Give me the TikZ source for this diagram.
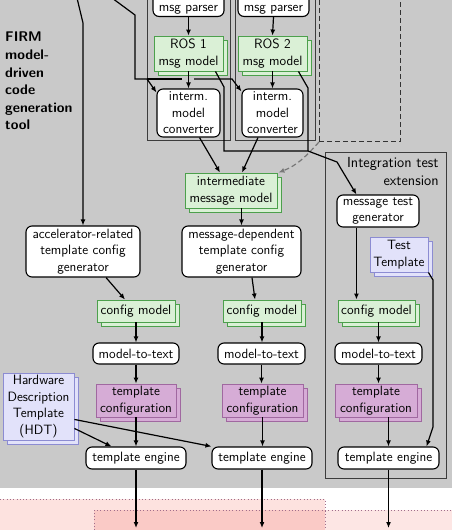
\documentclass[tikz,border=0pt]{standalone}
\usepackage{fontspec}
\usetikzlibrary{arrows.meta,shadows,calc}
\definecolor{bggray}{RGB}{201,201,201}
\definecolor{gfill}{RGB}{218,240,214}
\definecolor{gdraw}{RGB}{76,160,76}
\definecolor{pfill}{RGB}{214,172,214}
\definecolor{pdraw}{RGB}{160,104,160}
\definecolor{lfill}{RGB}{226,226,250}
\definecolor{ldraw}{RGB}{140,140,210}
\definecolor{pinkA}{RGB}{253,226,223}
\definecolor{pinkB}{RGB}{250,202,198}
\definecolor{pinkC}{RGB}{253,230,228}
\definecolor{dotc}{RGB}{160,110,140}
\definecolor{boxc}{RGB}{60,60,60}
\definecolor{gline}{RGB}{120,120,120}
\newcommand\labfont{\fontsize{13.5}{16.5}\selectfont\sffamily}
\begin{document}
\begin{tikzpicture}[x=1pt,y=-1pt,
  proc/.style={draw=black, line width=1.1pt, fill=white, rounded corners=6pt, align=center, inner sep=0pt, font=\labfont},
  gdoc/.style={draw=gdraw, fill=gfill, line width=0.9pt, align=center, inner sep=0pt, font=\labfont, copy shadow={shadow xshift=4pt, shadow yshift=-4pt}},
  pdoc/.style={draw=pdraw, fill=pfill, line width=0.9pt, align=center, inner sep=0pt, font=\labfont, copy shadow={shadow xshift=4pt, shadow yshift=-4pt}},
  ldoc/.style={draw=ldraw, fill=lfill, line width=0.9pt, align=center, inner sep=0pt, font=\labfont, copy shadow={shadow xshift=4pt, shadow yshift=-4pt}},
  grp/.style={draw=boxc, line width=0.8pt, inner sep=0pt},
  extbox/.style={draw=black!80, line width=0.8pt, dash pattern=on 5pt off 3pt, inner sep=0pt},
  conn/.style={line width=1.2pt, -{Latex[length=6pt,width=5pt]}},
  wire/.style={line width=1.2pt},
  gconn/.style={line width=1.2pt, gline, dash pattern=on 5pt off 3pt, -{Latex[length=6pt,width=5pt]}},
  dots/.style={dotc, line width=0.9pt, dash pattern=on 0.9pt off 2.4pt},
]
\useasboundingbox (0,0) rectangle (452,530);
% backgrounds
\fill[bggray] (0,0) rectangle (452,488);
\fill[pinkA] (0,499) rectangle (325,530);
\fill[pinkB] (94,510) rectangle (325,530);
\fill[pinkC] (325,510) rectangle (452,530);
\draw[dots] (0,499) -- (325,499) -- (325,530);
\draw[dots] (94,530) -- (94,510) -- (325,510);
\draw[dots] (325,510) -- (452,510);

% group frames
\node[grp, minimum width=83, minimum height=150, anchor=south west] (col1) at (147,141) {};
\node[grp, minimum width=80, minimum height=150, anchor=south west] (col2) at (235,141) {};
\node[extbox, minimum width=81, minimum height=150, anchor=south west] (ext) at (319,142) {};
\node[grp, minimum width=121, minimum height=326, anchor=north west] (intbox) at (325,152) {};
\node[font={\fontsize{14.6}{17.6}\selectfont\sffamily}, align=right, anchor=north east, inner sep=0pt] (intlabel) at ($(intbox.north east)+(-8,5.5)$) {Integration test\\extension};

% title
\node[anchor=north west, align=left, inner sep=0pt, font={\fontsize{14}{17.6}\selectfont\sffamily\bfseries}] (firm) at (5,32) {FIRM\\model-\\driven\\code\\generation\\tool};

% nodes
\node[proc, anchor=south, minimum width=71, inner ysep=2.5pt] (parser1) at (188.5,17) {\mbox{}\\msg parser};
\node[proc, anchor=south, minimum width=71, inner ysep=2.5pt] (parser2) at (273.5,17) {\mbox{}\\msg parser};
\node[gdoc, minimum width=69, minimum height=35] (ros1model) at (188.5,53.5) {ROS 1\\msg model};
\node[gdoc, minimum width=69, minimum height=35] (ros2model) at (272.5,53.5) {ROS 2\\msg model};
\node[proc, minimum width=63, minimum height=48] (conv1) at (188.5,113) {interm.\\model\\converter};
\node[proc, minimum width=61, minimum height=48] (conv2) at (272.5,113) {interm.\\model\\converter};
\node[gdoc, minimum width=92, minimum height=35] (imm) at (231,190.5) {intermediate\\message model};
\node[proc, minimum width=114, minimum height=51] (accgen) at (83,251.5) {accelerator-related\\template config\\generator};
\node[proc, minimum width=119, minimum height=51] (msgdep) at (241.5,251.5) {message-dependent\\template config\\generator};
\node[proc, minimum width=82, minimum height=32] (msgtest) at (378,211) {message test\\generator};
\node[ldoc, minimum width=58, minimum height=35] (testtpl) at (399,254.5) {Test\\Template};
\node[gdoc, minimum width=78, minimum height=22] (cfg1) at (136,311) {config model};
\node[gdoc, minimum width=78, minimum height=22] (cfg2) at (262,311) {config model};
\node[gdoc, minimum width=77, minimum height=22] (cfg3) at (376.5,311) {config model};
\node[proc, minimum width=86, minimum height=21] (m2t1) at (136,353.5) {model-to-text};
\node[proc, minimum width=87, minimum height=21] (m2t2) at (261.5,353.5) {model-to-text};
\node[proc, minimum width=87, minimum height=21] (m2t3) at (378.5,353.5) {model-to-text};
\node[pdoc, minimum width=80, minimum height=33] (tc1) at (136,400.5) {template\\configuration};
\node[pdoc, minimum width=81, minimum height=33] (tc2) at (262.5,400.5) {template\\configuration};
\node[pdoc, minimum width=82, minimum height=33] (tc3) at (376,400.5) {template\\configuration};
\node[ldoc, minimum width=71, minimum height=67] (hdt) at (38.5,406.5) {Hardware\\Description\\Template\\(HDT)};
\node[proc, minimum width=100, minimum height=22] (te1) at (136,458) {template engine};
\node[proc, minimum width=100, minimum height=22] (te2) at (262,458) {template engine};
\node[proc, minimum width=101, minimum height=22] (te3) at (388.5,458) {template engine};

% incoming lines from above
\coordinate (inA) at (77,-2);
\coordinate (inB) at (112,-2);
\draw[conn] (inA) -- (83,23) -- (accgen.north);
\coordinate (j1) at (147,79);
\draw[wire] (inB) -- (135,15) -- (135,79) -- (j1);
\draw[conn] (j1) -- ($(conv1.north west)+(0,4)$);
\draw[wire] (j1) -- (182,79);
\draw[conn] (194,79) -- (232,79) -- ($(conv2.north west)+(0,3)$);

% column arrows
\draw[conn] (parser1.south) -- (ros1model.north);
\draw[conn] (parser2.south) -- (ros2model.north);
\draw[conn] (ros1model.south) -- (conv1.north);
\draw[conn] (ros2model.south) -- (conv2.north);
\draw[conn] ($(conv1.south)+(11,0)$) -- ($(imm.north)+(-11,0)$);
\draw[conn] ($(conv2.south)+(-14.5,0)$) -- ($(imm.north)+(11,0)$);
\draw[gconn] (ext.south west) to[out=228,in=21] ($(imm.north east)+(1,0)$);

% to message test generator
\coordinate (j2) at (308,151);
\draw[wire] ($(ros2model.south east)+(-9,0)$) -- (308,88) -- (j2);
\draw[conn] ($(ros1model.south east)+(-8,0)$) -- (224,87) -- (224,151) -- (j2) -- (337,162) -- ($(msgtest.north west)+(20,0)$);

% middle arrows
\draw[conn] (msgdep.north |- imm.south) -- (msgdep.north);
\draw[conn] ($(accgen.south)+(23,0)$) -- ($(cfg1.north)+(-11,0)$);
\draw[conn] ($(msgdep.south)+(10.5,0)$) -- ($(cfg2.north)+(-7,0)$);
\coordinate (mt) at ($(msgtest.south west)+(20,0)$);
\draw[conn] (mt) -- (mt |- cfg3.north);
\draw[conn] (cfg1.south) -- (m2t1.north);
\draw[conn] (cfg2.south) -- (cfg2.south |- m2t2.north);
\draw[conn] (m2t3.north |- cfg3.south) -- (m2t3.north);
\draw[conn] (m2t1.south) -- (tc1.north);
\draw[conn] (m2t2.south) -- (m2t2.south |- tc2.north);
\draw[conn] (m2t3.south) -- (m2t3.south |- tc3.north);
\draw[conn] (tc1.south) -- (te1.north);
\draw[conn] (tc2.south) -- (tc2.south |- te2.north);
\draw[conn] (te3.north |- tc3.south) -- (te3.north);
\draw[conn] ($(hdt.south east)+(0,-12)$) -- ($(te1.north west)+(26,0)$);
\draw[conn] ($(hdt.south east)+(0,-21)$) -- (te2.north west);
\draw[conn] (testtpl.south east) -- (433,280) -- (433,427) -- ($(te3.north east)+(-13,0)$);

% outputs
\coordinate (out1) at (136,528);
\coordinate (out2) at (262,528);
\coordinate (out3) at (388.5,528);
\draw[conn] (te1.south) -- (out1);
\draw[conn] (te2.south) -- (out2);
\draw[conn] (te3.south) -- (out3);
\end{tikzpicture}
\end{document}
